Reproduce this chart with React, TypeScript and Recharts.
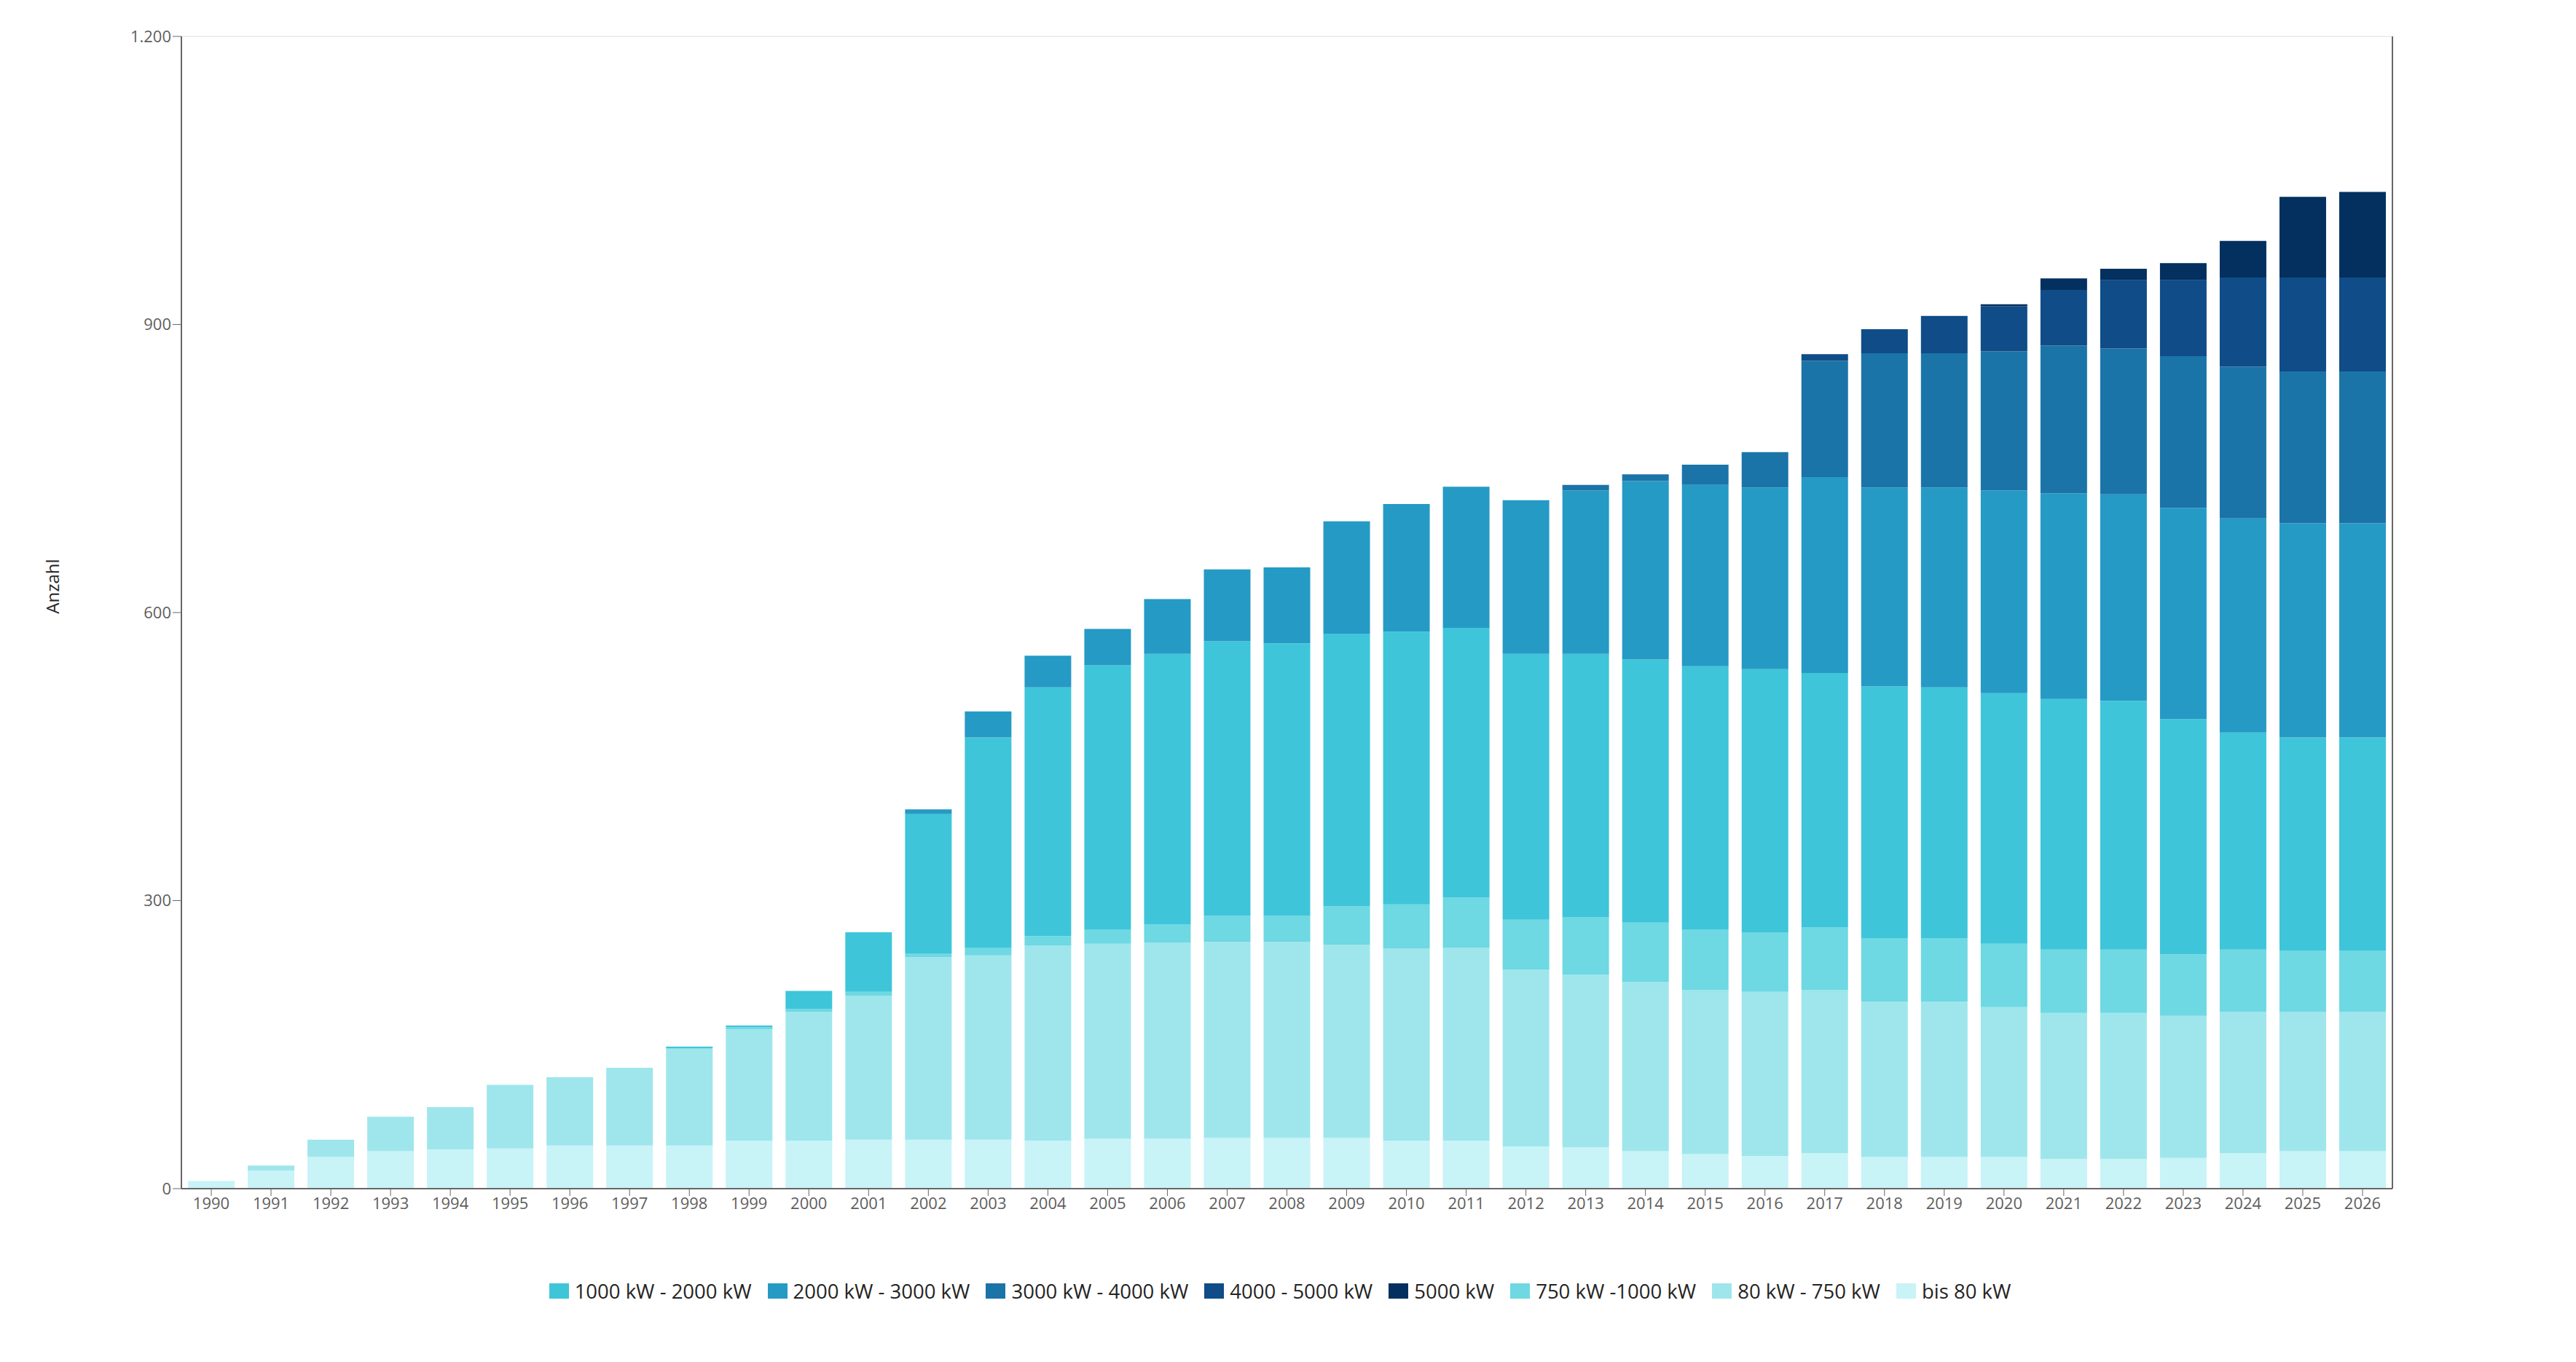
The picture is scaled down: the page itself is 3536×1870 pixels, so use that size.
import React from 'react';
import { BarChart, Bar, XAxis, YAxis, ReferenceLine } from 'recharts';

// Jahre
const years = [
  '1990', '1991', '1992', '1993', '1994', '1995', '1996', '1997', '1998', '1999',
  '2000', '2001', '2002', '2003', '2004', '2005', '2006', '2007', '2008', '2009',
  '2010', '2011', '2012', '2013', '2014', '2015', '2016', '2017', '2018', '2019',
  '2020', '2021', '2022', '2023', '2024', '2025', '2026',
];

// Anzahl je Leistungsklasse (von unten nach oben gestapelt)
const bis80 = [8, 19, 33, 39, 41, 42, 45, 45, 45, 50, 50, 51, 51, 51, 50, 52, 52, 53, 53, 53, 50, 50, 44, 43, 39, 36, 34, 37, 33, 33, 33, 31, 31, 32, 37, 39, 39];
const kw80bis750 = [0, 5, 18, 36, 44, 66, 71, 81, 101, 116, 134, 150, 190, 192, 203, 203, 204, 204, 204, 201, 200, 201, 184, 180, 176, 171, 171, 170, 162, 162, 156, 152, 152, 148, 147, 145, 145];
const kw750bis1000 = [0, 0, 0, 0, 0, 0, 0, 0, 0, 2, 3, 4, 4, 8, 10, 15, 19, 27, 27, 40, 46, 52, 52, 60, 62, 63, 62, 65, 66, 66, 66, 66, 66, 64, 65, 64, 64];
const kw1000bis2000 = [0, 0, 0, 0, 0, 0, 0, 0, 2, 2, 19, 62, 145, 219, 259, 275, 282, 286, 284, 284, 284, 281, 277, 274, 274, 274, 274, 265, 262, 261, 261, 261, 259, 245, 226, 222, 222];
const kw2000bis3000 = [0, 0, 0, 0, 0, 0, 0, 0, 0, 0, 0, 0, 5, 27, 33, 38, 57, 75, 79, 117, 133, 147, 160, 170, 186, 189, 189, 204, 207, 208, 211, 214, 215, 220, 223, 223, 223];
const kw3000bis4000 = [0, 0, 0, 0, 0, 0, 0, 0, 0, 0, 0, 0, 0, 0, 0, 0, 0, 0, 0, 0, 0, 0, 0, 6, 7, 21, 37, 121, 140, 140, 145, 154, 152, 158, 158, 158, 158];
const kw4000bis5000 = [0, 0, 0, 0, 0, 0, 0, 0, 0, 0, 0, 0, 0, 0, 0, 0, 0, 0, 0, 0, 0, 0, 0, 0, 0, 0, 0, 7, 25, 39, 47, 58, 71, 79, 93, 98, 98];
const kw5000 = [0, 0, 0, 0, 0, 0, 0, 0, 0, 0, 0, 0, 0, 0, 0, 0, 0, 0, 0, 0, 0, 0, 0, 0, 0, 0, 0, 0, 0, 0, 2, 12, 12, 18, 38, 84, 89];

const yTicks = [0, 300, 600, 900, 1200];

// Serien in Stapelreihenfolge
const series = [
  { key: 'bis80', name: 'bis 80 kW', color: '#C8F3F7', values: bis80 },
  { key: 'kw80bis750', name: '80 kW - 750 kW', color: '#9EE6EC', values: kw80bis750 },
  { key: 'kw750bis1000', name: '750 kW -1000 kW', color: '#6ED8E3', values: kw750bis1000 },
  { key: 'kw1000bis2000', name: '1000 kW - 2000 kW', color: '#3EC5D9', values: kw1000bis2000 },
  { key: 'kw2000bis3000', name: '2000 kW - 3000 kW', color: '#259AC5', values: kw2000bis3000 },
  { key: 'kw3000bis4000', name: '3000 kW - 4000 kW', color: '#1B74A8', values: kw3000bis4000 },
  { key: 'kw4000bis5000', name: '4000 - 5000 kW', color: '#0F4C88', values: kw4000bis5000 },
  { key: 'kw5000', name: '5000 kW', color: '#03305F', values: kw5000 },
];

// Legende in der Reihenfolge des Originals
const legendOrder = [
  'kw1000bis2000', 'kw2000bis3000', 'kw3000bis4000', 'kw4000bis5000',
  'kw5000', 'kw750bis1000', 'kw80bis750', 'bis80',
];

const data = years.map((year, i) => {
  const row: any = { year };
  series.forEach((s) => {
    row[s.key] = s.values[i];
  });
  return row;
});

const FONT = "'Segoe UI', 'Open Sans', sans-serif";

const formatTick = (v: number) => String(v).replace(/\B(?=(\d{3})+(?!\d))/g, '.');

const AnzahlLabel = () => (
  <text
    x={63}
    y={797}
    transform="rotate(-90, 63, 797)"
    textAnchor="middle"
    dominantBaseline="central"
    fontSize={24}
    fontFamily={FONT}
    fill="#252423"
  >
    Anzahl
  </text>
);

const App: React.FC = () => {
  return (
    <div style={{ position: 'relative', width: 3520, height: 1854, fontFamily: FONT }}>
      <BarChart
        width={3520}
        height={1854}
        data={data}
        margin={{ top: 42, right: 243, bottom: 170, left: 0 }}
        barCategoryGap="11%"
      >
        <XAxis
          dataKey="year"
          interval={0}
          height={60}
          tickSize={10}
          tick={{ fontSize: 22, fill: '#605E5C', fontFamily: FONT }}
          tickLine={{ stroke: '#666' }}
          axisLine={{ stroke: '#666', strokeWidth: 2 }}
        />
        <YAxis
          width={241}
          domain={[0, 1200]}
          ticks={yTicks}
          tickFormatter={formatTick}
          tickSize={12}
          tick={{ fontSize: 22, fill: '#605E5C', fontFamily: FONT }}
          tickLine={{ stroke: '#666' }}
          axisLine={{ stroke: '#666', strokeWidth: 2 }}
          label={<AnzahlLabel />}
        />
        <YAxis
          yAxisId="right"
          orientation="right"
          width={1}
          type="number"
          domain={[0, 1200]}
          allowDataOverflow
          tick={false}
          tickLine={false}
          axisLine={{ stroke: '#666', strokeWidth: 2 }}
        />
        <ReferenceLine y={1200} stroke="#EEEEEE" strokeWidth={2} />
        {series.map((s) => (
          <Bar
            key={s.key}
            dataKey={s.key}
            name={s.name}
            stackId="a"
            fill={s.color}
            isAnimationActive={false}
          />
        ))}
      </BarChart>

      <div
        style={{
          position: 'absolute',
          left: 0,
          top: 1744,
          width: 3520,
          height: 40,
          display: 'flex',
          justifyContent: 'center',
          alignItems: 'center',
        }}
      >
        {legendOrder.map((key) => {
          const s = series.find((x) => x.key === key)!;
          return (
            <div key={key} style={{ display: 'flex', alignItems: 'center', marginRight: 22 }}>
              <div style={{ width: 27, height: 21, backgroundColor: s.color, marginRight: 8 }} />
              <span style={{ fontSize: 27.5, color: '#252423', whiteSpace: 'nowrap' }}>{s.name}</span>
            </div>
          );
        })}
      </div>
    </div>
  );
};

export default App;
